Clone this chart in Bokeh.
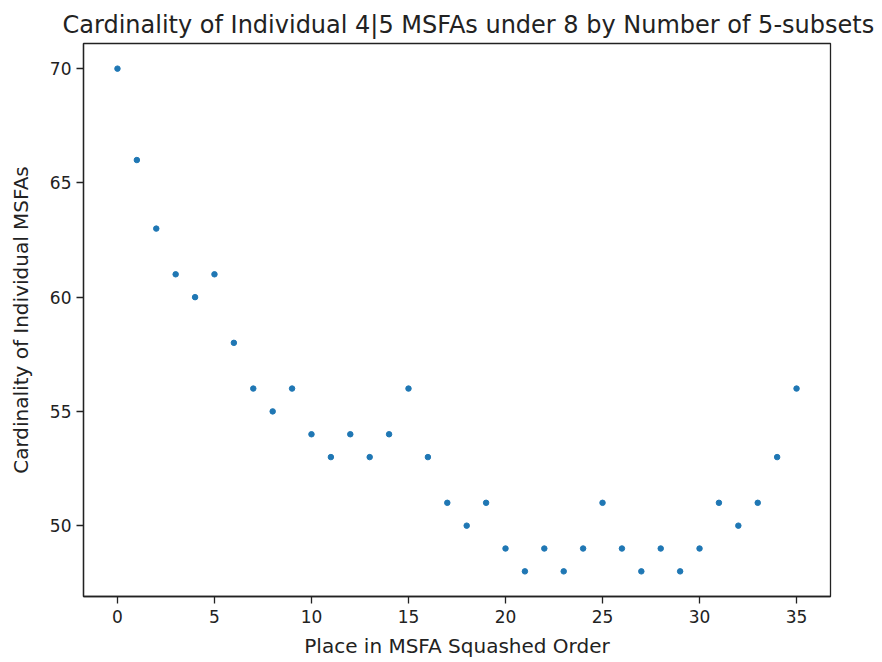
from bokeh.plotting import figure
from bokeh.embed import file_html
from bokeh.resources import INLINE
from bokeh.models import Range1d, FixedTicker

place = list(range(36))
cardinality = [70, 66, 63, 61, 60, 61, 58, 56, 55, 56, 54, 53, 54, 53, 54, 56, 53, 51,
               50, 51, 49, 48, 49, 48, 49, 51, 49, 48, 49, 48, 49, 51, 50, 51, 53, 56]
x_ticks = [0, 5, 10, 15, 20, 25, 30, 35]
y_ticks = [50, 55, 60, 65, 70]

FONT = "DejaVu Sans"

p = figure(width=880, height=660, output_backend="svg", toolbar_location=None,
           x_range=Range1d(-1.75, 36.75), y_range=Range1d(46.9, 71.1),
           min_border_left=83, min_border_right=50, min_border_top=43, min_border_bottom=64)

p.title.text = "Cardinality of Individual 4|5 MSFAs under 8 by Number of 5-subsets"
p.title.align = "left"
p.title.offset = -21
p.title.text_font = FONT
p.title.text_font_size = "24px"
p.title.text_font_style = "normal"
p.title.text_color = "#222222"

p.scatter(place, cardinality, size=5.5, color="#1f77b4")

p.xgrid.visible = False
p.ygrid.visible = False
p.outline_line_color = "#222222"
p.outline_line_alpha = 1
p.outline_line_width = 1.3

for ax in (p.xaxis[0], p.yaxis[0]):
    ax.axis_line_color = "#222222"
    ax.axis_line_width = 1.3
    ax.major_tick_line_color = "#222222"
    ax.major_tick_line_width = 1.3
    ax.major_tick_out = 7
    ax.major_tick_in = 0
    ax.minor_tick_line_color = None
    ax.major_label_text_font = FONT
    ax.major_label_text_font_size = "17px"
    ax.major_label_text_color = "#222222"
    ax.axis_label_text_font = FONT
    ax.axis_label_text_font_size = "20px"
    ax.axis_label_text_font_style = "normal"
    ax.axis_label_text_color = "#222222"

p.xaxis.ticker = FixedTicker(ticks=x_ticks)
p.yaxis.ticker = FixedTicker(ticks=y_ticks)
p.xaxis.axis_label = "Place in MSFA Squashed Order"
p.yaxis.axis_label = "Cardinality of Individual MSFAs"
p.yaxis.major_label_orientation = "horizontal"
p.xaxis.major_label_standoff = 6
p.yaxis.major_label_standoff = 5
p.xaxis.axis_label_standoff = 8
p.yaxis.axis_label_standoff = 14

open("out.html", "w").write(file_html(p, INLINE))
